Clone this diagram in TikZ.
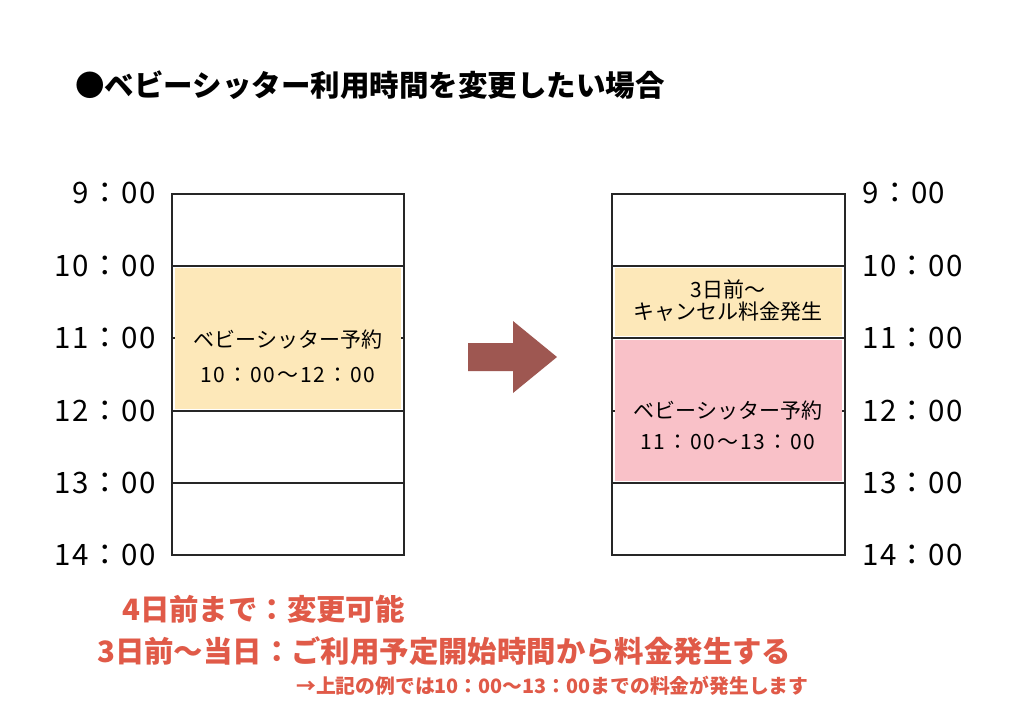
\documentclass[tikz,border=0pt]{standalone}
\usepackage{fontspec}
\newfontfamily\jp{Noto Sans CJK JP}
\definecolor{resv}{HTML}{FDE8B9}
\definecolor{pinkfill}{HTML}{F9C1C8}
\definecolor{arrowc}{HTML}{9E5751}
\definecolor{redtxt}{HTML}{E05A48}
\tikzset{
  grid/.style={line width=2pt, draw=black!85},
  timel/.style={font=\jp\addfontfeature{LetterSpace=5}\fontsize{29.5pt}{34pt}\selectfont, inner sep=0pt, anchor=east},
  timer/.style={font=\jp\addfontfeature{LetterSpace=5}\fontsize{29.5pt}{34pt}\selectfont, inner sep=0pt, anchor=west},
  blk/.style={inner sep=0pt, align=center, font=\jp\fontsize{21pt}{22pt}\selectfont},
  blkt/.style={inner sep=0pt, align=center, font=\jp\addfontfeature{LetterSpace=9}\fontsize{21pt}{22pt}\selectfont},
  note/.style={inner sep=0pt, anchor=west, text=redtxt, font=\jp\bfseries\fontsize{29.4pt}{34pt}\selectfont},
}
\begin{document}
\begin{tikzpicture}[x=1pt,y=-1pt]
\useasboundingbox[fill=white] (0,0) rectangle (1024,726);
% title
\node[inner sep=0pt, anchor=west, font=\jp\bfseries\fontsize{29.5pt}{32pt}\selectfont] (title) at (75,85) {●ベビーシッター利用時間を変更したい場合};
% left column
\draw[grid] (172,194) rectangle (404,555);
\foreach \yy in {266,338,411,483} \draw[grid] (172,\yy) -- (404,\yy);
\fill[resv] (175,268) rectangle (401,409);
\node[blk] (lres) at (288,340) {ベビーシッター予約};
\node[blkt] (ltime) at (288,375) {10：00〜12：00};
% right column
\draw[grid] (612,194) rectangle (845,555);
\foreach \yy in {266,338,411,483} \draw[grid] (612,\yy) -- (845,\yy);
\fill[resv] (615,268) rectangle (842,336);
\fill[pinkfill] (615,340) rectangle (842,481);
\node[blk] (cancel) at (728,301) {3日前〜\\キャンセル料金発生};
\node[blk] (rres) at (728,411) {ベビーシッター予約};
\node[blkt] (rtime) at (728,442) {11：00〜13：00};
% time labels
\node[timel] (l9) at (156,193) {9：00};
\node[timel] (l10) at (156,266) {10：00};
\node[timel] (l11) at (156,338) {11：00};
\node[timel] (l12) at (156,411) {12：00};
\node[timel] (l13) at (156,483) {13：00};
\node[timel] (l14) at (156,555) {14：00};
\node[timer] (r9) at (862,193) {9：00};
\node[timer] (r10) at (862,266) {10：00};
\node[timer] (r11) at (862,338) {11：00};
\node[timer] (r12) at (862,411) {12：00};
\node[timer] (r13) at (862,483) {13：00};
\node[timer] (r14) at (862,555) {14：00};
% arrow
\fill[arrowc] (468,343) -- (513,343) -- (513,321) -- (557,357) -- (513,393) -- (513,371) -- (468,371) -- cycle;
% notes
\node[note] (n1) at (122,609) {4日前まで：変更可能};
\node[note] (n2) at (97,651) {3日前〜当日：ご利用予定開始時間から料金発生する};
\node[note, font=\jp\bfseries\fontsize{19.8pt}{22pt}\selectfont] (n3) at (296,686) {→上記の例では10：00〜13：00までの料金が発生します};
\end{tikzpicture}
\end{document}
